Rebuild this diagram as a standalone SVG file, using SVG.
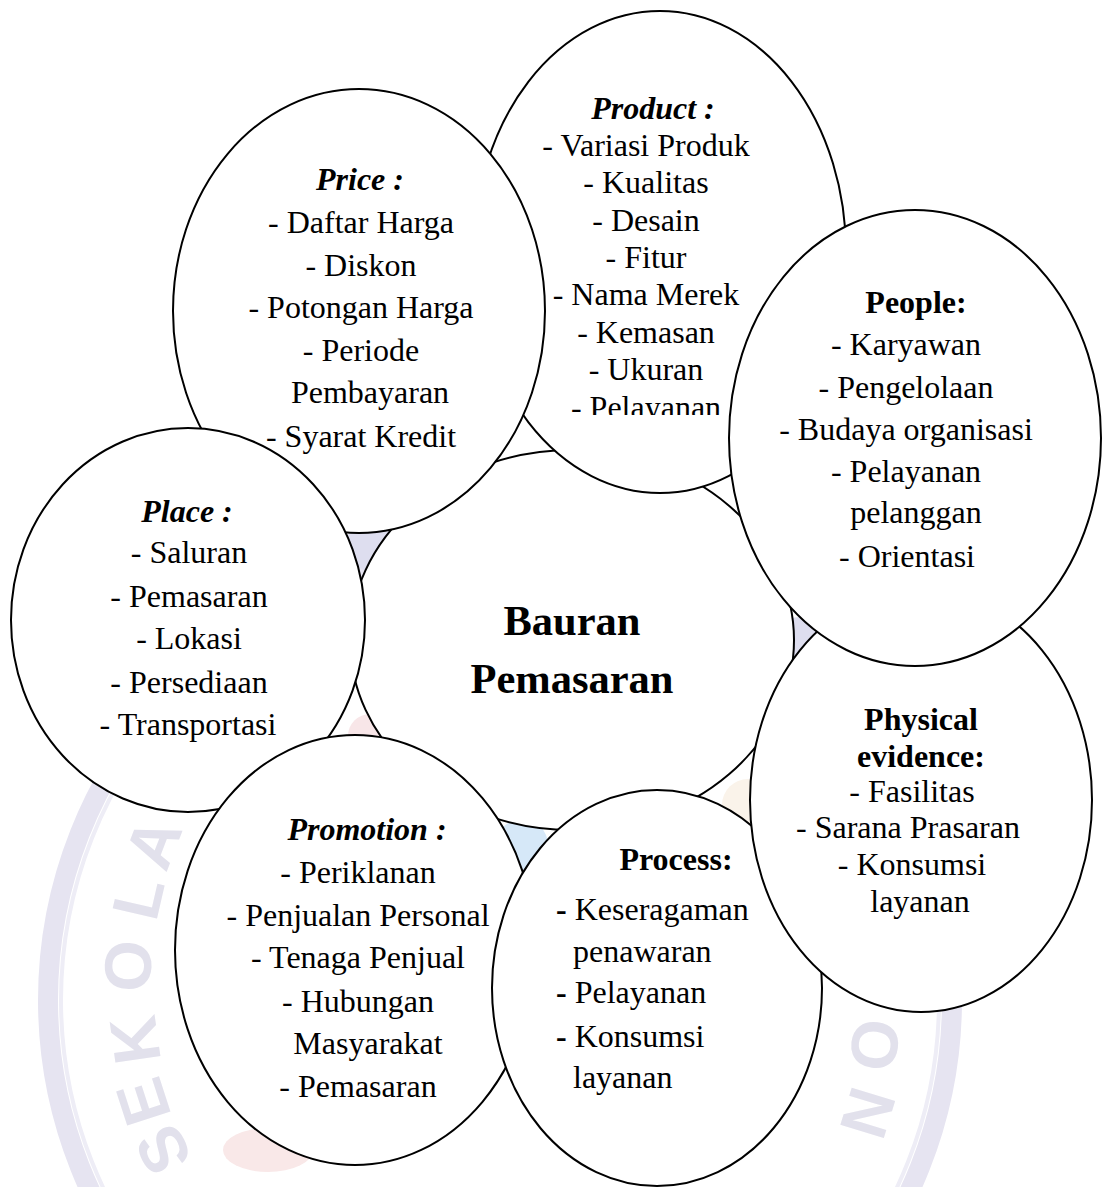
<svg xmlns="http://www.w3.org/2000/svg" width="1102" height="1187" viewBox="0 0 1102 1187">
<style>
.node{fill:#ffffff;stroke:#000000;stroke-width:2}
.t{font-family:"Liberation Serif","Times New Roman",serif;font-size:32px;fill:#000000;text-anchor:middle}
.l{text-anchor:start}
.b{font-weight:bold}
.bi{font-weight:bold;font-style:italic}
.wm{font-family:"Liberation Sans",Arial,sans-serif;font-weight:bold;font-size:66px;fill:#e2e1ec;text-anchor:middle}
</style>
<defs>
<clipPath id="clipProduct"><rect x="440" y="0" width="420" height="415"/></clipPath>
</defs>
<rect width="1102" height="1187" fill="#ffffff"/>
<g id="watermark">
<circle cx="500" cy="1000" r="452" fill="none" stroke="#e6e4f1" stroke-width="20"/>
<circle cx="500" cy="1000" r="439" fill="none" stroke="#eeedf6" stroke-width="4"/>
<text class="wm" transform="translate(153,843) rotate(-69)" dy="23">A</text>
<text class="wm" transform="translate(138,898) rotate(-77)" dy="23">L</text>
<text class="wm" transform="translate(128,966) rotate(-87)" dy="23">O</text>
<text class="wm" transform="translate(135,1040) rotate(-98)" dy="23">K</text>
<text class="wm" transform="translate(143,1102) rotate(-108)" dy="23">E</text>
<text class="wm" transform="translate(163,1150) rotate(-117)" dy="23">S</text>
<text class="wm" transform="translate(875,1045) rotate(97)" dy="23">O</text>
<text class="wm" transform="translate(868,1113) rotate(107)" dy="23">N</text>
<circle cx="372" cy="545" r="26" fill="#dedeef"/>
<circle cx="800" cy="645" r="28" fill="#dedeef"/>
<circle cx="370" cy="736" r="22" fill="#f8e6e8"/>
<circle cx="522" cy="845" r="26" fill="#d6e8f8"/>
<circle cx="748" cy="805" r="26" fill="#faf3ea"/>
<ellipse cx="268" cy="1150" rx="45" ry="22" fill="#f9e8e8"/>
</g>
<g id="node-center">
<ellipse class="node" cx="572" cy="640" rx="222" ry="190"/>
<text class="t b" style="font-size:42.5px" x="572" y="635">Bauran</text>
<text class="t b" style="font-size:42.5px" x="572" y="693">Pemasaran</text>
</g>
<g id="node-product">
<ellipse class="node" cx="660" cy="252" rx="186" ry="241"/>
<g clip-path="url(#clipProduct)">
<text class="t bi" x="653" y="119">Product :</text>
<text class="t" x="646" y="156">- Variasi Produk</text>
<text class="t" x="646" y="193">- Kualitas</text>
<text class="t" x="646" y="231">- Desain</text>
<text class="t" x="646" y="268">- Fitur</text>
<text class="t" x="646" y="305">- Nama Merek</text>
<text class="t" x="646" y="343">- Kemasan</text>
<text class="t" x="646" y="380">- Ukuran</text>
<text class="t" x="646" y="418">- Pelayanan</text>
</g>
</g>
<g id="node-price">
<ellipse class="node" cx="359" cy="311" rx="186" ry="222"/>
<text class="t bi" x="360" y="190">Price :</text>
<text class="t" x="361" y="233">- Daftar Harga</text>
<text class="t" x="361" y="276">- Diskon</text>
<text class="t" x="361" y="318">- Potongan Harga</text>
<text class="t" x="361" y="361">- Periode</text>
<text class="t" x="370" y="403">Pembayaran</text>
<text class="t" x="361" y="447">- Syarat Kredit</text>
</g>
<g id="node-place">
<ellipse class="node" cx="188" cy="620" rx="177" ry="192"/>
<text class="t bi" x="187" y="522">Place :</text>
<text class="t" x="189" y="563">- Saluran</text>
<text class="t" x="189" y="607">- Pemasaran</text>
<text class="t" x="189" y="649">- Lokasi</text>
<text class="t" x="189" y="693">- Persediaan</text>
<text class="t" x="188" y="735">- Transportasi</text>
</g>
<g id="node-promotion">
<ellipse class="node" cx="355" cy="950" rx="180" ry="215"/>
<text class="t bi" x="367" y="840">Promotion :</text>
<text class="t" x="358" y="883">- Periklanan</text>
<text class="t" x="358" y="926">- Penjualan Personal</text>
<text class="t" x="358" y="968">- Tenaga Penjual</text>
<text class="t" x="358" y="1012">- Hubungan</text>
<text class="t" x="368" y="1054">Masyarakat</text>
<text class="t" x="358" y="1097">- Pemasaran</text>
</g>
<g id="node-process">
<ellipse class="node" cx="657" cy="988" rx="165" ry="198"/>
<text class="t b" x="676" y="870">Process:</text>
<text class="t l" x="556" y="920"><tspan class="b">-</tspan> Keseragaman</text>
<text class="t l" x="573" y="962">penawaran</text>
<text class="t l" x="556" y="1003"><tspan class="b">-</tspan> Pelayanan</text>
<text class="t l" x="556" y="1047"><tspan class="b">-</tspan> Konsumsi</text>
<text class="t l" x="573" y="1088">layanan</text>
</g>
<g id="node-physical">
<ellipse class="node" cx="921" cy="800" rx="171" ry="212"/>
<text class="t b" x="921" y="730">Physical</text>
<text class="t b" x="921" y="767">evidence:</text>
<text class="t" x="912" y="802">- Fasilitas</text>
<text class="t" x="908" y="838">- Sarana Prasaran</text>
<text class="t" x="912" y="875">- Konsumsi</text>
<text class="t" x="920" y="912">layanan</text>
</g>
<g id="node-people">
<ellipse class="node" cx="915" cy="438" rx="186" ry="228"/>
<text class="t b" x="916" y="313">People:</text>
<text class="t" x="906" y="355">- Karyawan</text>
<text class="t" x="906" y="398">- Pengelolaan</text>
<text class="t" x="906" y="440">- Budaya organisasi</text>
<text class="t" x="906" y="482">- Pelayanan</text>
<text class="t" x="916" y="523">pelanggan</text>
<text class="t" x="907" y="567">- Orientasi</text>
</g>
<g id="connectors"></g>
</svg>
